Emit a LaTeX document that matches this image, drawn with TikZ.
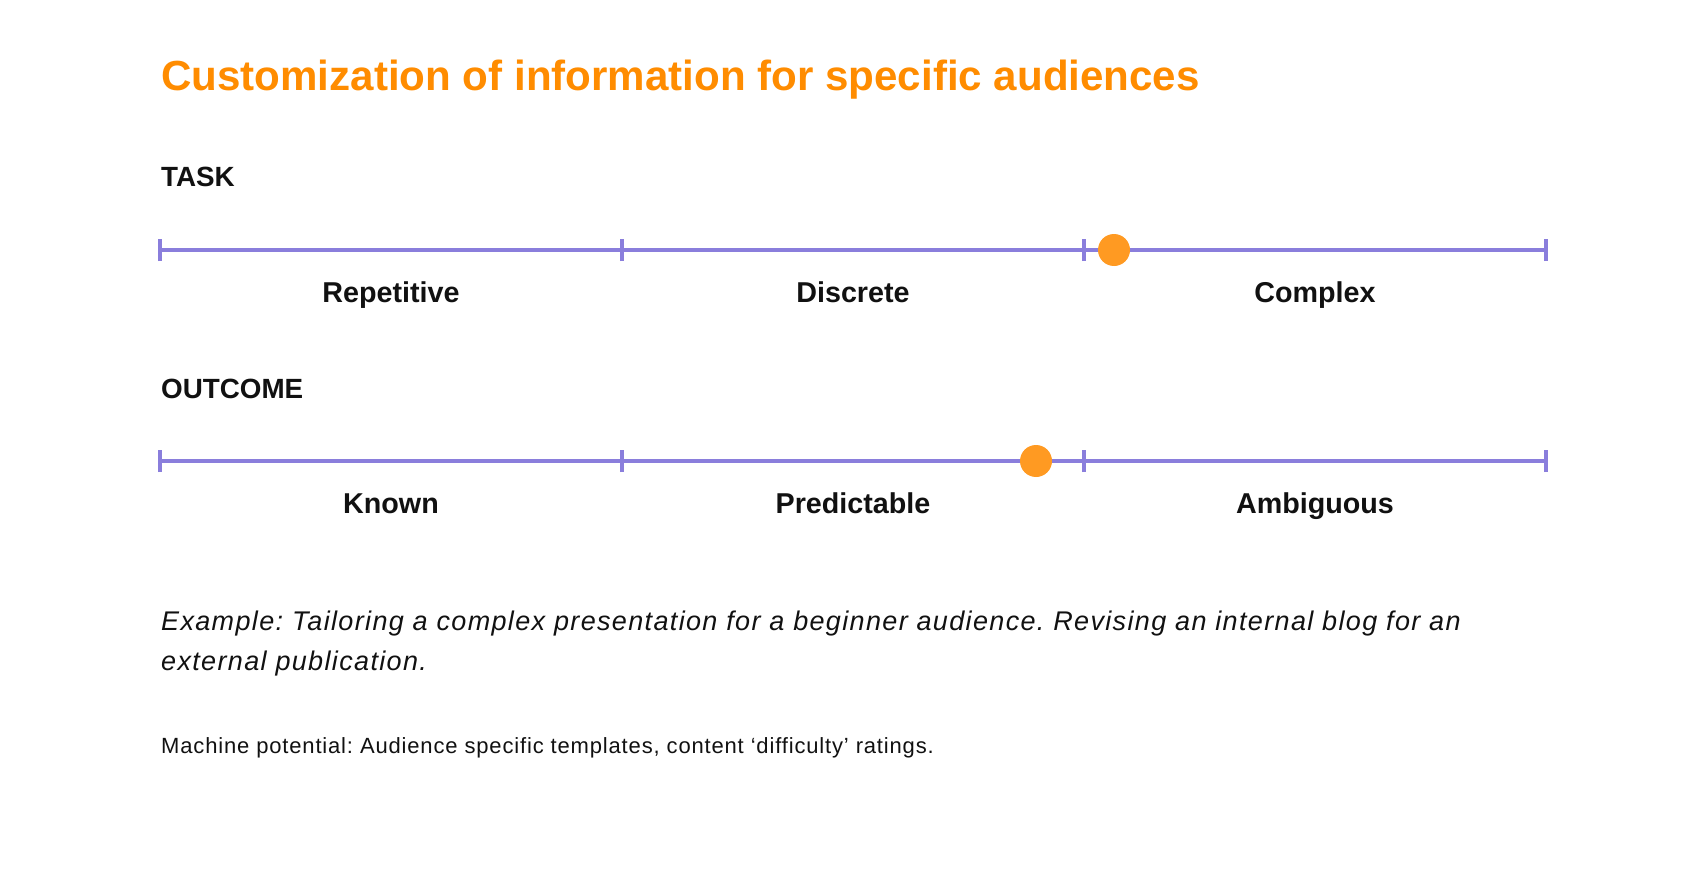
\documentclass[tikz,border=0pt]{standalone}
\usepackage{fontspec}
\setmainfont{Liberation Sans}
\frenchspacing
\definecolor{titleorange}{HTML}{FF8C00}
\definecolor{dotorange}{HTML}{FF9A22}
\definecolor{scalepurple}{HTML}{8A7EDC}
\definecolor{textblack}{HTML}{111111}
\tikzset{
  scaleline/.style={draw=scalepurple, line width=3.1pt},
  tickmark/.style={draw=scalepurple, line width=3.1pt},
  marker/.style={circle, fill=dotorange, minimum size=32pt, inner sep=0pt},
  heading/.style={anchor=base west, inner sep=0pt, text=textblack, font=\fontsize{27.8}{30}\selectfont\bfseries},
  catlabel/.style={anchor=base, inner sep=0pt, text=textblack, font=\fontsize{28.7}{32}\selectfont\bfseries},
  titletext/.style={anchor=base west, inner sep=0pt, text=titleorange, font=\fontsize{42.1}{48}\selectfont\bfseries},
  exampletext/.style={anchor=base west, inner sep=0pt, text=textblack, font=\fontsize{27}{40}\selectfont\itshape\addfontfeature{LetterSpace=5}},
  notetext/.style={anchor=base west, inner sep=0pt, text=textblack, font=\fontsize{22}{24}\selectfont\addfontfeature{LetterSpace=3.8}},
}
\begin{document}
\begin{tikzpicture}[x=1pt,y=-1pt]
\useasboundingbox[fill=white] (0,0) rectangle (1706,872);
\node[titletext] (title) at (161,90.7) {Customization of information for specific audiences};
% TASK
\node[heading] (task) at (161,186) {TASK};
\coordinate (t0) at (160,250);
\coordinate (t1) at (622,250);
\coordinate (t2) at (1084,250);
\coordinate (t3) at (1546,250);
\draw[scaleline] (t0) -- (t3);
\foreach \c in {t0,t1,t2,t3} \draw[tickmark] ([yshift=-11pt]\c) -- ([yshift=11pt]\c);
\node[marker] (tdot) at (1114,250) {};
\node[catlabel] (rep) at (391,302) {Repetitive};
\node[catlabel] (dis) at (853,302) {Discrete};
\node[catlabel] (com) at (1315,302) {Complex};
% OUTCOME
\node[heading] (outcome) at (161,398) {OUTCOME};
\coordinate (o0) at (160,461);
\coordinate (o1) at (622,461);
\coordinate (o2) at (1084,461);
\coordinate (o3) at (1546,461);
\draw[scaleline] (o0) -- (o3);
\foreach \c in {o0,o1,o2,o3} \draw[tickmark] ([yshift=-11pt]\c) -- ([yshift=11pt]\c);
\node[marker] (odot) at (1036,461) {};
\node[catlabel] (kno) at (391,513) {Known};
\node[catlabel] (pre) at (853,513) {Predictable};
\node[catlabel] (amb) at (1315,513) {Ambiguous};
% texts
\node[exampletext] (ex1) at (161,630) {Example: Tailoring a complex presentation for a beginner audience. Revising an internal blog for an};
\node[exampletext] (ex2) at (161,670) {external publication.};
\node[notetext] (note) at (161,753) {Machine potential: Audience specific templates, content ‘difficulty’ ratings.};
\end{tikzpicture}
\end{document}
